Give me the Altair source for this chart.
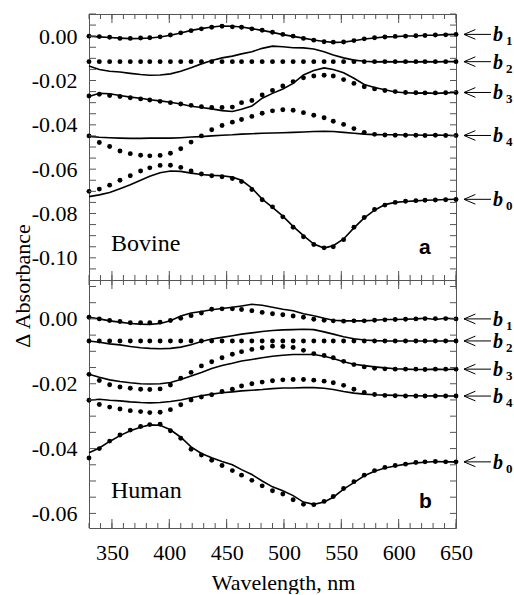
import altair as alt
import pandas as pd
import numpy as np

# ---------------- data ----------------
wavelength = [330, 339, 348, 357, 366, 375, 383, 392, 401, 410, 419, 428, 437, 446, 455, 463, 472, 481, 490,
              499, 508, 517, 526, 535, 543, 552, 561, 570, 579, 588, 597, 606, 615, 623, 632, 641, 650]

series_names = ["1", "2", "3", "4", "0"]

# ---- Bovine (panel a) ----
bov_b1_dots = [0.0000, -0.0002, -0.0005, -0.0010, -0.0010, -0.0008, -0.0007, -0.0003, 0.0005, 0.0015, 0.0025,
               0.0033, 0.0040, 0.0045, 0.0042, 0.0040, 0.0033, 0.0027, 0.0018, 0.0008, 0.0000, -0.0010, -0.0018,
               -0.0025, -0.0027, -0.0026, -0.0020, -0.0012, -0.0007, -0.0004, -0.0001, 0.0000, 0.0002, 0.0003,
               0.0005, 0.0006, 0.0008]
bov_b1_line = [0.0000, -0.0003, -0.0006, -0.0009, -0.0011, -0.0010, -0.0008, -0.0004, 0.0004, 0.0014, 0.0026,
               0.0034, 0.0041, 0.0046, 0.0045, 0.0041, 0.0034, 0.0026, 0.0017, 0.0007, -0.0001, -0.0009, -0.0017,
               -0.0024, -0.0028, -0.0027, -0.0021, -0.0013, -0.0008, -0.0003, -0.0002, 0.0001, 0.0001, 0.0004,
               0.0004, 0.0007, 0.0008]
bov_b2_dots = [-0.0115] * 37
bov_b2_line = [-0.0135, -0.0150, -0.0158, -0.0162, -0.0168, -0.0173, -0.0176, -0.0175, -0.0170, -0.0158, -0.0142,
               -0.0125, -0.0110, -0.0098, -0.0090, -0.0080, -0.0070, -0.0055, -0.0045, -0.0048, -0.0052, -0.0053,
               -0.0058, -0.0070, -0.0085, -0.0098, -0.0108, -0.0113, -0.0116, -0.0115, -0.0116, -0.0115, -0.0116,
               -0.0115, -0.0116, -0.0115, -0.0115]
bov_b3_dots = [-0.0270, -0.0262, -0.0268, -0.0272, -0.0278, -0.0283, -0.0288, -0.0294, -0.0300, -0.0306, -0.0312,
               -0.0318, -0.0322, -0.0322, -0.0320, -0.0300, -0.0290, -0.0265, -0.0245, -0.0225, -0.0205, -0.0188,
               -0.0180, -0.0176, -0.0180, -0.0196, -0.0213, -0.0228, -0.0238, -0.0245, -0.0250, -0.0254, -0.0255,
               -0.0256, -0.0256, -0.0255, -0.0254]
bov_b3_line = [-0.0272, -0.0258, -0.0260, -0.0268, -0.0275, -0.0280, -0.0287, -0.0292, -0.0298, -0.0306, -0.0316,
               -0.0322, -0.0328, -0.0336, -0.0340, -0.0330, -0.0315, -0.0280, -0.0258, -0.0238, -0.0213, -0.0175,
               -0.0155, -0.0143, -0.0150, -0.0165, -0.0190, -0.0218, -0.0232, -0.0242, -0.0252, -0.0255, -0.0257,
               -0.0256, -0.0258, -0.0256, -0.0254]
bov_b4_dots = [-0.0450, -0.0480, -0.0498, -0.0518, -0.0530, -0.0537, -0.0540, -0.0538, -0.0528, -0.0508, -0.0478,
               -0.0450, -0.0422, -0.0403, -0.0388, -0.0376, -0.0362, -0.0348, -0.0337, -0.0332, -0.0334, -0.0345,
               -0.0357, -0.0368, -0.0384, -0.0398, -0.0417, -0.0434, -0.0443, -0.0446, -0.0447, -0.0447, -0.0447,
               -0.0448, -0.0447, -0.0448, -0.0448]
bov_b4_line = [-0.0452, -0.0456, -0.0458, -0.0460, -0.0461, -0.0461, -0.0460, -0.0460, -0.0460, -0.0458, -0.0455,
               -0.0453, -0.0450, -0.0447, -0.0445, -0.0442, -0.0440, -0.0438, -0.0437, -0.0436, -0.0434, -0.0432,
               -0.0430, -0.0429, -0.0430, -0.0434, -0.0438, -0.0442, -0.0444, -0.0445, -0.0445, -0.0446, -0.0446,
               -0.0447, -0.0446, -0.0447, -0.0448]
bov_b0_dots = [-0.0700, -0.0690, -0.0672, -0.0650, -0.0630, -0.0608, -0.0594, -0.0583, -0.0582, -0.0592, -0.0608,
               -0.0622, -0.0630, -0.0634, -0.0642, -0.0656, -0.0692, -0.0738, -0.0770, -0.0815, -0.0862, -0.0905,
               -0.0940, -0.0955, -0.0950, -0.0918, -0.0862, -0.0818, -0.0782, -0.0762, -0.0750, -0.0745, -0.0742,
               -0.0740, -0.0739, -0.0738, -0.0737]
bov_b0_line = [-0.0724, -0.0716, -0.0705, -0.0688, -0.0670, -0.0650, -0.0632, -0.0616, -0.0608, -0.0610, -0.0618,
               -0.0624, -0.0628, -0.0630, -0.0636, -0.0650, -0.0685, -0.0735, -0.0772, -0.0812, -0.0858, -0.0900,
               -0.0938, -0.0956, -0.0945, -0.0915, -0.0865, -0.0820, -0.0785, -0.0760, -0.0750, -0.0746, -0.0743,
               -0.0740, -0.0739, -0.0737, -0.0736]

# ---- Human (panel b) ----
hum_b1_dots = [0.0005, 0.0000, -0.0005, -0.0008, -0.0012, -0.0012, -0.0012, -0.0010, -0.0005, 0.0002, 0.0010,
               0.0018, 0.0030, 0.0031, 0.0031, 0.0029, 0.0025, 0.0020, 0.0016, 0.0013, 0.0009, 0.0005, -0.0001,
               -0.0004, -0.0006, -0.0007, -0.0006, -0.0006, -0.0004, -0.0003, -0.0002, -0.0001, 0.0000, 0.0001,
               0.0001, 0.0001, 0.0000]
hum_b1_line = [0.0005, 0.0000, -0.0006, -0.0010, -0.0014, -0.0016, -0.0017, -0.0014, -0.0006, 0.0009, 0.0018,
               0.0023, 0.0028, 0.0032, 0.0036, 0.0040, 0.0045, 0.0042, 0.0036, 0.0030, 0.0025, 0.0016, 0.0010,
               0.0002, -0.0004, -0.0006, -0.0006, -0.0006, -0.0004, -0.0002, -0.0002, -0.0001, 0.0000, 0.0002,
               -0.0002, 0.0002, 0.0000]
hum_b2_dots = [-0.0068] * 37
hum_b2_line = [-0.0068, -0.0072, -0.0077, -0.0080, -0.0085, -0.0089, -0.0091, -0.0092, -0.0091, -0.0087, -0.0080,
               -0.0070, -0.0062, -0.0057, -0.0052, -0.0047, -0.0043, -0.0039, -0.0036, -0.0034, -0.0033, -0.0032,
               -0.0033, -0.0040, -0.0047, -0.0055, -0.0061, -0.0065, -0.0067, -0.0068, -0.0068, -0.0068, -0.0068,
               -0.0068, -0.0068, -0.0068, -0.0068]
hum_b3_dots = [-0.0171, -0.0190, -0.0203, -0.0210, -0.0214, -0.0217, -0.0218, -0.0216, -0.0204, -0.0183, -0.0165,
               -0.0145, -0.0132, -0.0120, -0.0109, -0.0101, -0.0094, -0.0089, -0.0084, -0.0085, -0.0088, -0.0097,
               -0.0107, -0.0113, -0.0120, -0.0131, -0.0141, -0.0148, -0.0152, -0.0154, -0.0155, -0.0155, -0.0155,
               -0.0156, -0.0155, -0.0155, -0.0155]
hum_b3_line = [-0.0171, -0.0180, -0.0188, -0.0193, -0.0197, -0.0200, -0.0201, -0.0200, -0.0196, -0.0187, -0.0176,
               -0.0165, -0.0153, -0.0144, -0.0137, -0.0130, -0.0125, -0.0120, -0.0115, -0.0112, -0.0110, -0.0110,
               -0.0110, -0.0115, -0.0122, -0.0132, -0.0140, -0.0144, -0.0148, -0.0151, -0.0154, -0.0155, -0.0156,
               -0.0156, -0.0155, -0.0156, -0.0155]
hum_b4_dots = [-0.0251, -0.0264, -0.0272, -0.0278, -0.0283, -0.0286, -0.0289, -0.0288, -0.0280, -0.0265, -0.0250,
               -0.0241, -0.0234, -0.0224, -0.0217, -0.0207, -0.0200, -0.0195, -0.0191, -0.0188, -0.0187, -0.0187,
               -0.0189, -0.0192, -0.0197, -0.0205, -0.0217, -0.0227, -0.0233, -0.0236, -0.0237, -0.0238, -0.0238,
               -0.0238, -0.0238, -0.0238, -0.0238]
hum_b4_line = [-0.0251, -0.0248, -0.0251, -0.0253, -0.0256, -0.0258, -0.0259, -0.0258, -0.0255, -0.0250, -0.0243,
               -0.0237, -0.0232, -0.0228, -0.0225, -0.0222, -0.0220, -0.0218, -0.0215, -0.0213, -0.0213, -0.0212,
               -0.0212, -0.0214, -0.0218, -0.0224, -0.0229, -0.0232, -0.0234, -0.0235, -0.0236, -0.0237, -0.0237,
               -0.0238, -0.0237, -0.0238, -0.0238]
hum_b0_dots = [-0.0429, -0.0400, -0.0377, -0.0358, -0.0343, -0.0332, -0.0326, -0.0325, -0.0345, -0.0368, -0.0402,
               -0.0420, -0.0436, -0.0452, -0.0468, -0.0482, -0.0498, -0.0515, -0.0530, -0.0540, -0.0558, -0.0572,
               -0.0573, -0.0563, -0.0548, -0.0523, -0.0502, -0.0482, -0.0468, -0.0458, -0.0452, -0.0448, -0.0443,
               -0.0441, -0.0440, -0.0441, -0.0441]
hum_b0_line = [-0.0413, -0.0398, -0.0378, -0.0360, -0.0345, -0.0334, -0.0327, -0.0328, -0.0342, -0.0365, -0.0395,
               -0.0415, -0.0428, -0.0440, -0.0450, -0.0465, -0.0480, -0.0500, -0.0518, -0.0530, -0.0545, -0.0565,
               -0.0572, -0.0565, -0.0550, -0.0525, -0.0505, -0.0484, -0.0470, -0.0460, -0.0454, -0.0448, -0.0444,
               -0.0442, -0.0440, -0.0441, -0.0441]

x_major_ticks = [350, 400, 450, 500, 550, 600, 650]
top_y_labels = [0.0, -0.02, -0.04, -0.06, -0.08, -0.10]
bot_y_labels = [0.0, -0.02, -0.04, -0.06]

# ---------------- styling ----------------
W = 367
FRAME = "#555555"
SERIF = "Times New Roman, Liberation Serif, DejaVu Serif, serif"
SANS = "Arial, Liberation Sans, DejaVu Sans, sans-serif"
x_minor_ticks = list(range(330, 651, 10))
ARROW_HEAD = "M 1 -0.85 L -1 0 L 1 0.85"


def long_df(arrays):
    rows = []
    for name, vals in zip(series_names, arrays):
        for w, v in zip(wavelength, vals):
            rows.append({"wl": w, "v": v, "s": name})
    return pd.DataFrame(rows)


label_expr = "datum.value < -0.0001 ? '-' + format(-datum.value, '.2f') : format(abs(datum.value), '.2f')"


def panel(lines, dots, ydom, H, y_labels, name, name_y, letter, letter_y, bottom):
    xs = alt.Scale(domain=[330, 650], nice=False, zero=False)
    ys = alt.Scale(domain=ydom, nice=False, zero=False)
    yaxis = alt.Axis(values=y_labels, labelExpr=label_expr, ticks=False, domain=False, grid=False,
                     labelFont=SERIF, labelFontSize=22, labelColor="black", labelPadding=12, title=None,
                     labelFlush=False, labelOverlap=False)
    if bottom:
        xaxis = alt.Axis(values=x_major_ticks, format="d", ticks=False, domain=False, grid=False,
                         labelFont=SERIF, labelFontSize=22, labelColor="black", labelPadding=14,
                         labelFlush=False, labelOverlap=False,
                         title="Wavelength, nm", titleFont=SERIF, titleFontSize=22, titleFontWeight="normal",
                         titleColor="black", titlePadding=9, titleX=194)
    else:
        xaxis = None

    def X():
        return alt.X("wl:Q", scale=xs, axis=xaxis)

    def Y():
        return alt.Y("v:Q", scale=ys, axis=yaxis)

    ldf = long_df(lines)
    ddf = long_df(dots)
    line = alt.Chart(ldf).mark_line(color="black", strokeWidth=1.6).encode(x=X(), y=Y(), detail="s:N")
    pts = alt.Chart(ddf).mark_circle(color="black", size=24, opacity=1).encode(x=X(), y=Y())

    layers = [line, pts]
    # tick marks (inward)
    for vals, ln in ((x_minor_ticks, 5), (x_major_ticks, 9)):
        tdf = pd.DataFrame({"wl": vals})
        layers.append(alt.Chart(tdf).mark_rule(color=FRAME, strokeWidth=1).encode(
            x=X(), y=alt.value(0), y2=alt.value(ln)))
        layers.append(alt.Chart(tdf).mark_rule(color=FRAME, strokeWidth=1).encode(
            x=X(), y=alt.value(H), y2=alt.value(H - ln)))
    yt = [round(v, 3) for v in np.arange(ydom[0], ydom[1] + 1e-9, 0.005) if v > ydom[0] + 1e-6]
    ytdf = pd.DataFrame({"v": yt})
    layers.append(alt.Chart(ytdf).mark_rule(color=FRAME, strokeWidth=1).encode(
        y=Y(), x=alt.value(0), x2=alt.value(7)))
    layers.append(alt.Chart(ytdf).mark_rule(color=FRAME, strokeWidth=1).encode(
        y=Y(), x=alt.value(W), x2=alt.value(W - 6)))

    # right-side labels: open arrow + b with subscript
    lab = pd.DataFrame({"v": [arr[-1] for arr in lines], "sub": series_names})
    layers.append(alt.Chart(lab).mark_rule(color="black", strokeWidth=1).encode(
        x=alt.value(W + 8), x2=alt.value(W + 35), y=Y()))
    layers.append(alt.Chart(lab).mark_point(shape=ARROW_HEAD, filled=False, color="black", strokeWidth=1,
                                            size=130, opacity=1).encode(
        x=alt.value(W + 13.7), y=Y()))
    layers.append(alt.Chart(lab).mark_text(text="b", align="left", baseline="alphabetic", font=SERIF,
                                           fontStyle="italic", fontWeight="bold", fontSize=20, dy=7,
                                           color="black").encode(
        x=alt.value(W + 37), y=Y()))
    layers.append(alt.Chart(lab).mark_text(align="left", baseline="alphabetic", font=SERIF,
                                           fontWeight="bold", fontSize=13, dy=11, color="black").encode(
        x=alt.value(W + 50), y=Y(), text="sub:N"))

    # panel annotations
    layers.append(alt.Chart(pd.DataFrame({"t": [name]})).mark_text(
        align="left", baseline="alphabetic", font=SERIF, fontSize=24, color="black").encode(
        x=alt.value(22), y=alt.value(name_y), text="t:N"))
    layers.append(alt.Chart(pd.DataFrame({"t": [letter]})).mark_text(
        align="left", baseline="alphabetic", font=SANS, fontWeight="bold", fontSize=21, color="black").encode(
        x=alt.value(330), y=alt.value(letter_y), text="t:N"))
    return layers


top_layers = panel([bov_b1_line, bov_b2_line, bov_b3_line, bov_b4_line, bov_b0_line],
                   [bov_b1_dots, bov_b2_dots, bov_b3_dots, bov_b4_dots, bov_b0_dots],
                   [-0.11, 0.01], 266, top_y_labels, "Bovine", 237, "a", 240, False)
top_layers.append(alt.Chart(pd.DataFrame({"t": ["Δ Absorbance"]})).mark_text(
    angle=270, align="center", baseline="middle", font=SERIF, fontSize=22, color="black").encode(
    x=alt.value(-66), y=alt.value(272), text="t:N"))
top = alt.layer(*top_layers).properties(width=W, height=266)

bot_layers = panel([hum_b1_line, hum_b2_line, hum_b3_line, hum_b4_line, hum_b0_line],
                   [hum_b1_dots, hum_b2_dots, hum_b3_dots, hum_b4_dots, hum_b0_dots],
                   [-0.0645, 0.012], 248, bot_y_labels, "Human", 218, "b", 228, True)
bot = alt.layer(*bot_layers).properties(width=W, height=248)

chart = alt.vconcat(top, bot, spacing=0, bounds="flush").properties(
    padding={"left": 11, "top": 13, "right": 0, "bottom": 0},
    background="white",
).configure_view(stroke=FRAME, strokeWidth=1)

chart.save("out.html", embed_options={"renderer": "svg", "actions": False})
